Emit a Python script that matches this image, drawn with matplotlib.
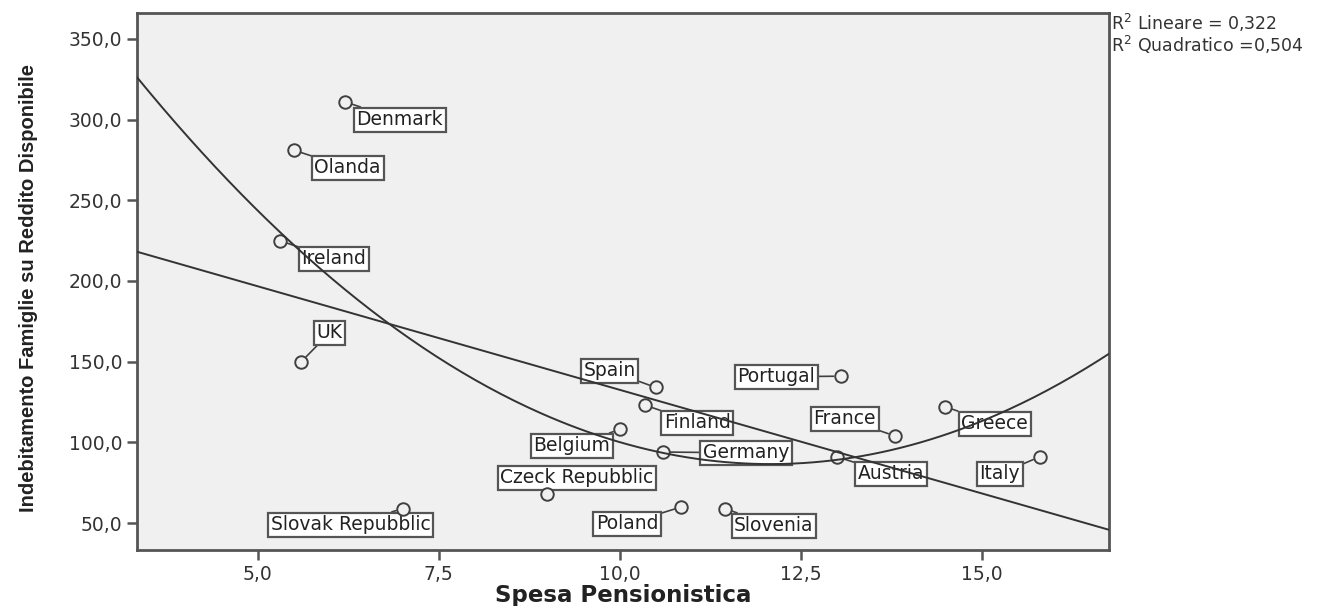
import numpy as np
import matplotlib
matplotlib.use('Agg')
import matplotlib.pyplot as plt
from matplotlib.ticker import FuncFormatter

# data
countries = ['Denmark', 'Olanda', 'Ireland', 'UK', 'Slovak Repubblic', 'Czeck Repubblic',
             'Belgium', 'Spain', 'Finland', 'Germany', 'Poland', 'Slovenia',
             'Portugal', 'Austria', 'France', 'Greece', 'Italy']
spesa = [6.2, 5.5, 5.3, 5.6, 7.0, 9.0, 10.0, 10.5, 10.35, 10.6, 10.85, 11.45,
         13.05, 13.0, 13.8, 14.5, 15.8]
debito = [311, 281, 225, 150, 59, 68, 108, 134, 123, 94, 60, 59,
          141, 91, 104, 122, 91]

# where the label boxes sit (data coords)
label_x = [6.96, 6.24, 6.05, 5.99, 6.28, 9.41, 9.34, 9.86, 11.07, 11.74, 10.10, 12.13,
           12.16, 13.75, 13.11, 15.18, 15.25]
label_y = [299.8, 270.1, 213.7, 167.8, 48.9, 78.0, 97.8, 144.3, 112.1, 93.5, 49.5, 48.3,
           140.6, 80.5, 114.6, 111.5, 80.5]

r2_text = [r'R$^2$ Lineare = 0,322', r'R$^2$ Quadratico =0,504']

plt.rcParams['font.family'] = ['DejaVu Sans']
fig = plt.figure(figsize=(13.42, 6.06), dpi=100)
ax = fig.add_axes([0.1021, 0.0924, 0.7243, 0.8861])
ax.set_facecolor('#f0f0f0')
ax.set_xlim(3.33, 16.76)
ax.set_ylim(33.3, 366)

dark = '#404040'
for s in ax.spines.values():
    s.set_color('#555555')
    s.set_linewidth(2)

# labels with leader lines
for name, x, y, lx, ly in zip(countries, spesa, debito, label_x, label_y):
    ax.annotate(name, xy=(x, y), xytext=(lx, ly), ha='center', va='center',
                fontsize=13.5, color='#222222', zorder=3,
                bbox=dict(boxstyle='square,pad=0.14', fc='white', ec='#555555', lw=1.6),
                arrowprops=dict(arrowstyle='-', color=dark, lw=1.2, shrinkA=0, shrinkB=5))

ax.plot(spesa, debito, 'o', ms=9, mfc='#f0f0f0', mec=dark, mew=1.4, zorder=4)

# fit lines
xs = np.linspace(3.33, 16.76, 300)
lin = np.polyfit(spesa, debito, 1)
quad = np.polyfit(spesa, debito, 2)
ax.plot(xs, np.polyval(lin, xs), color='#333333', lw=1.4, zorder=5)
ax.plot(xs, np.polyval(quad, xs), color='#333333', lw=1.4, zorder=5)

ax.set_xticks([5, 7.5, 10, 12.5, 15])
ax.set_yticks([50, 100, 150, 200, 250, 300, 350])
fmt = FuncFormatter(lambda v, p: ('%.1f' % v).replace('.', ','))
ax.xaxis.set_major_formatter(fmt)
ax.yaxis.set_major_formatter(fmt)
ax.tick_params(direction='out', length=7, width=1.8, color='#555555',
               labelsize=13.5, labelcolor='#333333')

ax.set_xlabel('Spesa Pensionistica', fontsize=16.5, fontweight='bold', color='#222222',
              va='center')
ax.xaxis.set_label_coords(0.5, -0.084)
ax.set_ylabel('Indebitamento Famiglie su Reddito Disponibile',
              family=['Liberation Sans Narrow', 'Liberation Sans', 'DejaVu Sans'],
              fontsize=14.5, fontweight='bold', color='#222222', va='center')
ax.yaxis.set_label_coords(-0.112, 0.488)

fig.text(0.8275, 0.962, r2_text[0], fontsize=12.5, color='#333333', va='center')
fig.text(0.8275, 0.926, r2_text[1], fontsize=12.5, color='#333333', va='center')

fig.savefig('out.png', dpi=100)
